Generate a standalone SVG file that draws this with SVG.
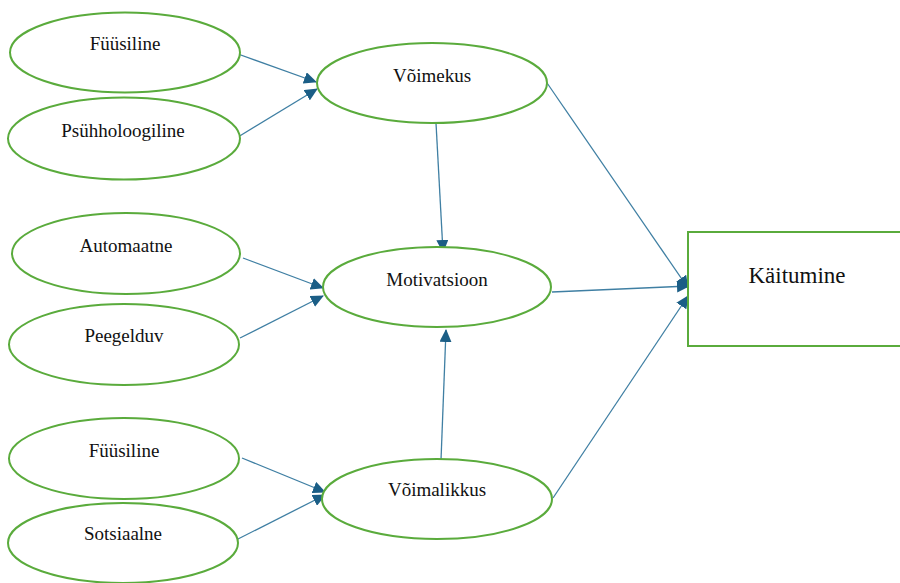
<svg xmlns="http://www.w3.org/2000/svg" width="900" height="583" viewBox="0 0 900 583">
<style>
.n{fill:#fff;stroke:#5aab3c;stroke-width:2}
.t{font-family:"Liberation Serif","Times New Roman",serif;font-size:19px;fill:#111;text-anchor:middle}
.c{stroke:#3f7fa3;stroke-width:1.3;fill:none;marker-end:url(#ah)}
</style>
<defs>
<marker id="ah" markerUnits="userSpaceOnUse" markerWidth="13" markerHeight="12" viewBox="0 0 13 12" refX="12" refY="6" orient="auto">
<path d="M0,0 L13,6 L0,12 Z" fill="#1b5e86"/>
</marker>
</defs>
<rect width="900" height="583" fill="#fff"/>
<g id="connectors">
<line class="c" x1="238" y1="54" x2="316" y2="82"/>
<line class="c" x1="238" y1="137" x2="317" y2="89"/>
<line class="c" x1="243" y1="258" x2="323" y2="288"/>
<line class="c" x1="240" y1="338" x2="323" y2="296"/>
<line class="c" x1="242" y1="458" x2="325" y2="492"/>
<line class="c" x1="238" y1="539" x2="325" y2="495"/>
<line class="c" x1="436" y1="123" x2="443" y2="252"/>
<line class="c" x1="441" y1="460" x2="446" y2="330"/>
<line class="c" x1="545" y1="80" x2="688" y2="288"/>
<line class="c" x1="552" y1="292" x2="689" y2="286"/>
<line class="c" x1="553" y1="498" x2="688" y2="296"/>
</g>
<g id="fuusiline1"><ellipse class="n" cx="125" cy="52.5" rx="115" ry="40"/><text class="t" x="125" y="50">Füüsiline</text></g>
<g id="psuhholoogiline"><ellipse class="n" cx="124" cy="138.5" rx="116" ry="41"/><text class="t" x="123" y="137">Psühholoogiline</text></g>
<g id="automaatne"><ellipse class="n" cx="126" cy="253.5" rx="114" ry="40.5"/><text class="t" x="126" y="252">Automaatne</text></g>
<g id="peegelduv"><ellipse class="n" cx="124" cy="344.5" rx="115" ry="40.5"/><text class="t" x="124" y="342">Peegelduv</text></g>
<g id="fuusiline2"><ellipse class="n" cx="124" cy="458.5" rx="115" ry="40.5"/><text class="t" x="124" y="457">Füüsiline</text></g>
<g id="sotsiaalne"><ellipse class="n" cx="123" cy="543" rx="115" ry="40"/><text class="t" x="123" y="540">Sotsiaalne</text></g>
<g id="voimekus"><ellipse class="n" cx="432" cy="83" rx="115" ry="40"/><text class="t" x="432" y="82">Võimekus</text></g>
<g id="motivatsioon"><ellipse class="n" cx="437" cy="287" rx="114" ry="40"/><text class="t" x="437" y="286">Motivatsioon</text></g>
<g id="voimalikkus"><ellipse class="n" cx="437" cy="499" rx="115" ry="40"/><text class="t" x="437" y="496">Võimalikkus</text></g>
<g id="kaitumine"><rect class="n" x="688" y="232" width="215" height="114"/><text class="t" x="797" y="283" style="font-size:23px">Käitumine</text></g>
</svg>
